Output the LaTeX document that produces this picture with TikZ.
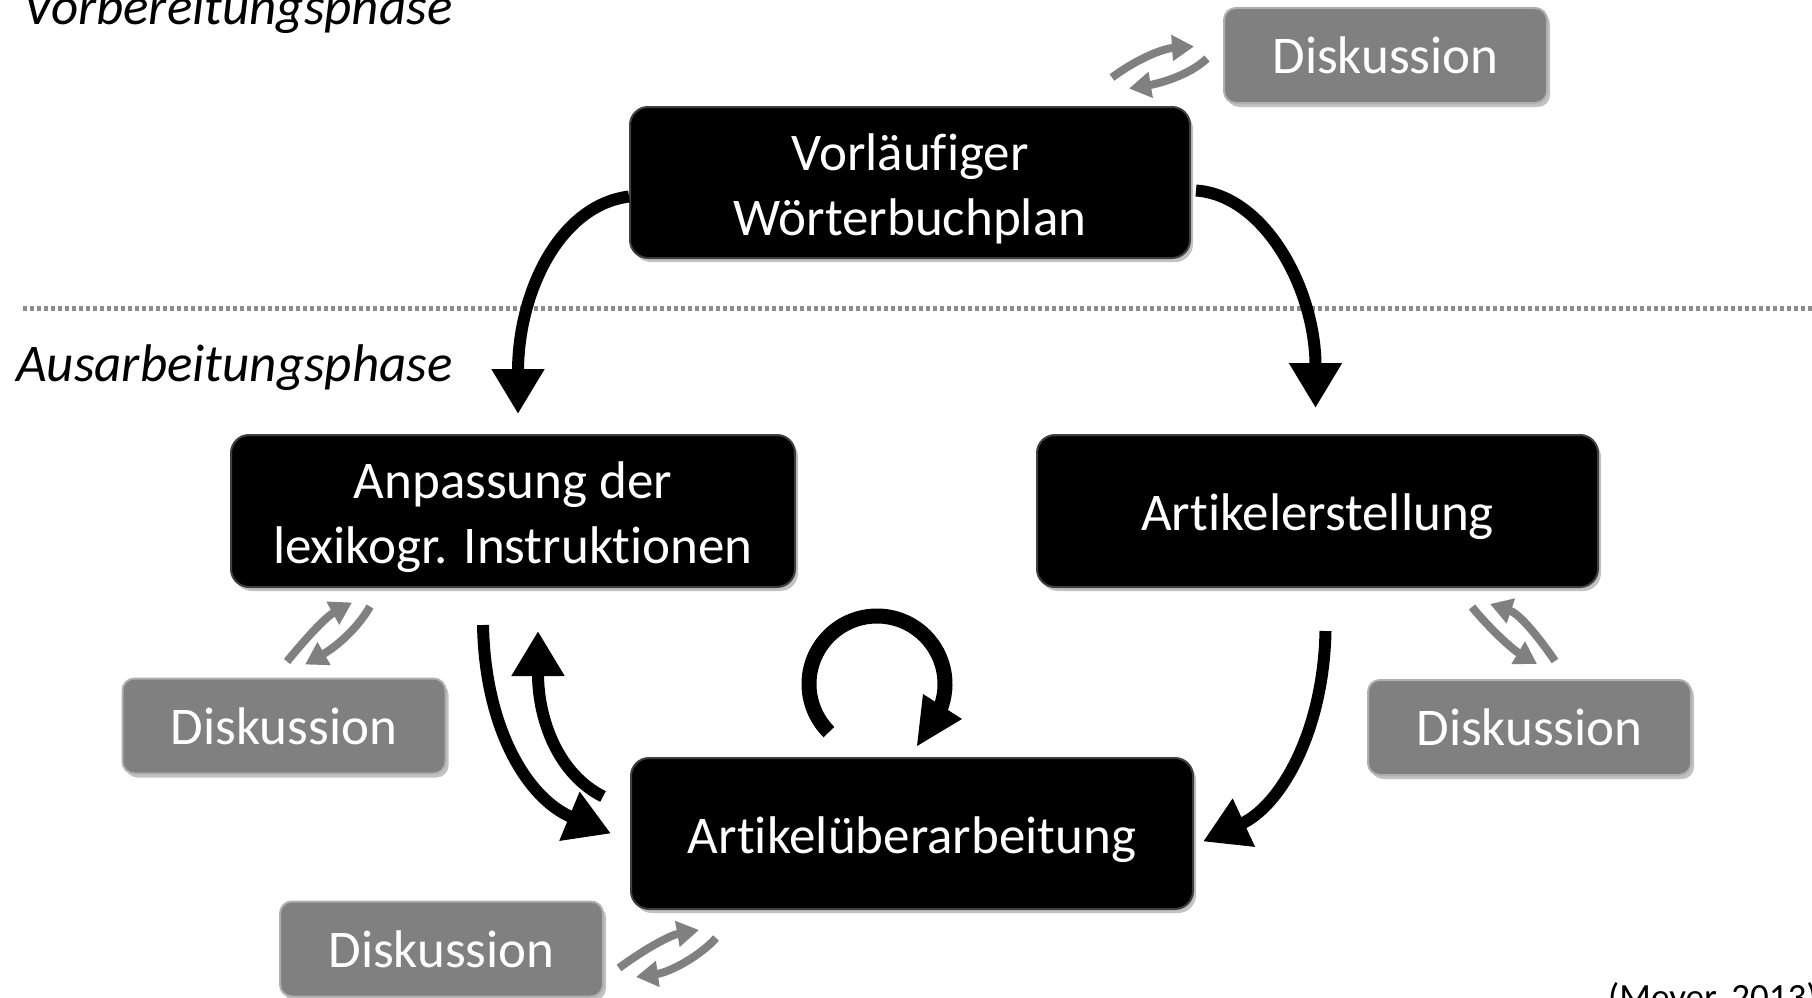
\documentclass[tikz,border=0pt]{standalone}
\usepackage{fontspec}
\setmainfont{Carlito}[Ligatures=NoCommon]
\usetikzlibrary{arrows.meta,calc,shadows}
\definecolor{boxgray}{RGB}{128,128,128}
\definecolor{boxedge}{RGB}{175,175,175}
\definecolor{arrgray}{RGB}{128,128,128}
\definecolor{linegray}{RGB}{140,140,140}
\begin{document}
\begin{tikzpicture}[x=1pt,y=-1pt,
  blackbox/.style={fill=black, draw=black!75, line width=2pt, rounded corners=18pt,
    inner sep=0pt,
    drop shadow={shadow xshift=3pt, shadow yshift=-4pt, fill=black!40, opacity=0.6}},
  boxtext/.style={text=white, align=center, font=\fontsize{53}{65}\selectfont,
    inner sep=0pt, yshift=-6pt},
  diskbox/.style={fill=boxgray, draw=boxedge, line width=2pt, rounded corners=12pt,
    text=white, font=\fontsize{53}{65}\selectfont, inner sep=0pt,
    minimum width=323pt, minimum height=95pt,
    drop shadow={shadow xshift=3pt, shadow yshift=-4pt, fill=black!40, opacity=0.6}},
  bigarrow/.style={line width=12pt, -{Triangle[width=50pt,length=45pt]}},
  smallarrow/.style={draw=arrgray, line width=8pt, -{Triangle[width=25pt,length=22pt]}},
  phase/.style={font=\fontsize{53}{65}\selectfont\itshape, inner sep=0pt, anchor=base west}
]
\useasboundingbox (0,0) rectangle (1812,998);

% phase labels and separator
\node[phase] (vp) at (23,25) {Vorbereitungsphase};
\node[phase] (ap) at (16,381) {Ausarbeitungsphase};
\draw[linegray, line width=5pt, dash pattern=on 4pt off 3pt] (23,308) -- (1812,308);

% main boxes
\node[blackbox, minimum width=560pt, minimum height=151pt,
  label={[boxtext]center:{Vorläufiger\\Wörterbuchplan}}] (v) at (910,182.5) {};
\node[blackbox, minimum width=564pt, minimum height=152pt,
  label={[boxtext]center:{Anpassung der\\lexikogr. Instruktionen}}] (a) at (513,511) {};
\node[blackbox, minimum width=561pt, minimum height=152pt,
  label={[boxtext]center:{Artikelerstellung}}] (e) at (1317.5,511) {};
\node[blackbox, minimum width=562pt, minimum height=151pt,
  label={[boxtext]center:{Artikelüberarbeitung}}] (u) at (912,833.5) {};

% discussion boxes
\node[diskbox] (d1) at (1385.5,55.5) {Diskussion};
\node[diskbox] (d2) at (284,726) {Diskussion};
\node[diskbox] (d3) at (1529.5,727.5) {Diskussion};
\node[diskbox] (d4) at (441.5,949) {Diskussion};

% big arrows
\draw[bigarrow] ($(v.west)+(0,14)$) .. controls +(-70,9) and +(0,-121) .. ($(a.north)+(5,-20)$);
\draw[bigarrow] ($(v.east)+(5,8)$) .. controls +(70,5) and +(0,-117) .. ($(e.north)+(-2,-26)$);
\draw[bigarrow] ($(e.south)+(8,43)$) .. controls +(-2,100) and +(78,-36) .. ($(u.east)+(9,8)$);
\draw[bigarrow] ($(a.south)+(-30,37)$) .. controls +(2,106) and +(-82,-34) .. ($(u.west)+(-19,0)$);
\draw[bigarrow] ($(u.west)+(-27,-37)$) .. controls +(-44,-22) and +(0,90) .. ($(a.south)+(25,43)$);

% loop
\coordinate (lc) at ($(u.north)+(-35,-73)$);
\draw[line width=15pt] ($(lc)+(135:68)$) arc[start angle=135, end angle=382, radius=68];
\fill ($(lc)+(46,10)$) -- ($(lc)+(85,35)$) -- ($(lc)+(40,62)$) -- cycle;

% small discussion arrows
\draw[smallarrow] ($(d1.west)+(-111,22)$) .. controls +(27,-20) and +(-30,2) .. ($(d1.west)+(-29,-9)$);
\draw[smallarrow] ($(d1.west)+(-16,3)$) .. controls +(-18,17) and +(30,-5) .. ($(d1.west)+(-94,33)$);

\draw[smallarrow] ($(d2.north)+(3,-16)$) .. controls +(18,-22) and +(-27,15) .. ($(d2.north)+(68,-75)$);
\draw[smallarrow] ($(d2.north)+(86,-71)$) .. controls +(-10,18) and +(35,-20) .. ($(d2.north)+(21,-13)$);

\draw[smallarrow] ($(d3.north)+(-57.5,-72)$) .. controls +(18,22) and +(-25,-15) .. ($(d3.north)+(7.5,-15)$);
\draw[smallarrow] ($(d3.north)+(25.5,-18)$) .. controls +(-15,-22) and +(30,10) .. ($(d3.north)+(-39.5,-75)$);

\draw[smallarrow] ($(d4.east)+(15,19)$) .. controls +(27,-20) and +(-28,5) .. ($(d4.east)+(95,-19)$);
\draw[smallarrow] ($(d4.east)+(112,-11)$) .. controls +(-15,17) and +(35,-5) .. ($(d4.east)+(32,28)$);

% source
\node[font=\fontsize{37}{44}\selectfont, inner sep=0pt, anchor=base west] (src) at (1608,1009) {(Meyer, 2013)};
\end{tikzpicture}
\end{document}
